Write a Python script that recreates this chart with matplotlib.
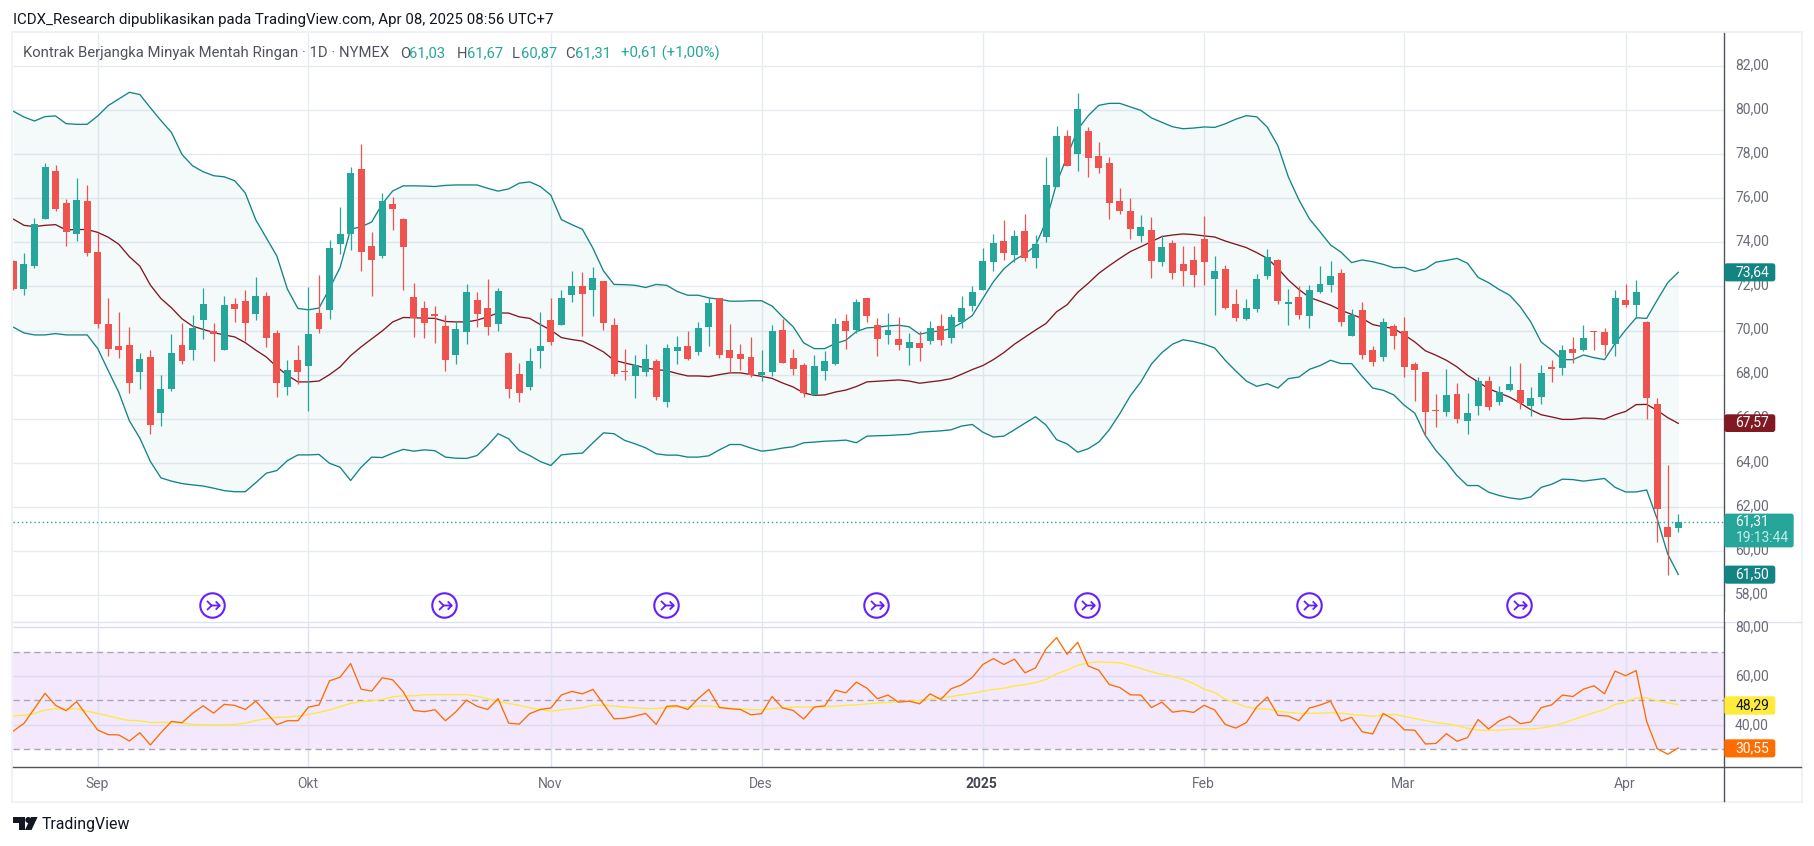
import numpy as np
import matplotlib
matplotlib.use('Agg')
import matplotlib.pyplot as plt
from matplotlib.patches import Rectangle, FancyBboxPatch, Circle, Polygon
from matplotlib.path import Path

plt.rcParams['font.family'] = ['Roboto', 'DejaVu Sans']

# daily candles
opens = [73.15,71.88,72.92,75.06,77.24,75.79,74.38,75.88,73.56,70.29,69.29,69.33,68.11,68.79,66.24,67.33,69.33,69.11,70.47,69.97,
         69.11,71.20,71.33,70.74,71.56,69.88,67.42,68.65,68.38,70.79,70.92,73.92,74.38,77.33,73.83,73.38,75.74,75.06,71.52,71.02,
         70.70,70.20,68.88,69.92,71.38,71.02,70.29,68.97,68.02,67.42,69.06,70.47,70.24,71.61,72.02,71.83,72.24,70.24,68.15,67.92,
         68.11,68.61,66.74,69.06,69.29,69.02,70.15,71.47,69.11,68.92,68.79,67.97,68.11,70.02,68.74,68.42,67.06,68.15,68.47,70.42,
         70.02,71.47,70.24,69.79,69.61,69.20,69.42,69.52,70.20,69.65,70.38,71.11,71.83,73.11,74.06,73.42,74.52,73.29,74.24,76.52,
         78.83,78.02,79.06,77.92,77.61,75.88,75.42,74.29,74.56,73.11,73.97,73.02,73.20,74.15,72.33,72.79,71.20,70.52,70.97,72.47,
         73.20,71.20,71.52,70.65,71.74,72.06,72.61,69.74,70.92,69.11,68.79,70.20,69.97,68.47,68.11,66.38,66.29,67.11,65.92,66.56,
         67.70,66.74,67.29,67.29,66.56,66.97,68.33,68.29,69.15,69.11,69.97,69.92,69.38,71.38,71.15,70.38,66.65,61.09,61.03]
highs = [73.20,73.52,75.11,77.61,77.52,75.97,76.92,76.61,74.42,71.47,70.83,70.15,68.97,69.11,67.97,69.83,70.33,70.70,71.92,70.33,
         71.56,71.47,71.83,72.42,71.74,70.02,68.65,69.33,71.97,72.52,74.11,75.61,77.42,78.47,74.47,76.24,76.06,75.11,72.15,71.33,
         71.11,70.70,70.38,72.11,71.74,72.33,71.92,69.02,68.52,69.20,70.83,71.47,71.83,72.70,72.65,72.88,72.24,70.56,69.15,68.88,
         69.38,68.70,69.38,69.74,69.97,70.38,71.47,71.47,70.29,69.38,69.70,69.11,70.24,70.52,69.15,68.52,68.88,69.06,70.56,70.74,
         71.42,71.47,70.56,70.79,70.61,69.88,69.97,70.42,70.74,70.74,71.56,72.02,73.74,74.38,75.02,74.56,75.29,74.33,77.88,79.29,
         79.11,80.79,79.24,78.56,77.88,76.47,76.02,75.24,75.15,74.33,74.11,73.83,73.83,75.20,73.38,72.97,71.88,71.42,72.56,73.70,
         73.24,71.88,72.02,72.06,72.92,73.15,72.79,70.97,71.29,69.29,70.56,70.29,70.61,68.56,68.11,67.11,68.24,67.61,67.15,67.88,
         67.92,67.47,68.38,68.52,67.42,68.42,68.65,69.33,69.70,70.24,69.97,70.11,71.83,72.11,72.29,70.42,66.92,63.88,61.67]
lows = [71.85,71.61,72.83,75.06,75.42,73.83,74.06,73.38,70.11,68.83,68.74,67.15,67.33,65.29,65.65,67.24,68.47,68.65,69.61,68.61,
        69.11,70.38,69.52,70.47,69.24,66.97,67.06,67.56,66.33,69.88,70.52,73.47,73.65,72.70,71.56,73.29,74.56,71.83,69.70,69.65,
        69.42,68.15,68.47,69.38,70.15,69.79,69.97,66.92,66.74,67.29,68.29,69.33,70.24,71.29,69.74,70.65,70.02,67.92,67.74,66.92,
        67.92,66.83,66.52,68.47,68.65,68.88,69.29,68.74,68.06,68.20,67.88,67.70,67.92,68.52,67.97,66.97,67.06,67.74,68.42,69.15,
        69.88,70.38,68.83,69.38,69.11,68.42,68.61,69.38,69.33,69.42,70.11,70.88,71.83,72.70,73.20,73.11,73.15,72.83,74.02,76.52,
        77.47,77.24,76.97,77.15,75.06,75.29,74.15,74.02,72.38,72.92,72.33,72.02,71.97,72.06,70.70,70.97,70.42,70.47,70.83,72.33,
        71.20,70.24,70.52,70.11,71.70,71.74,70.20,69.74,68.70,68.38,68.61,69.15,67.88,66.79,65.24,65.61,66.11,65.79,65.29,66.15,
        66.38,66.61,67.24,66.42,66.11,66.65,67.65,67.97,68.52,69.06,69.11,68.88,68.83,71.06,70.56,65.97,60.42,58.92,60.87]
closes = [71.88,73.02,74.83,77.42,75.52,74.47,75.92,73.52,70.29,69.15,69.11,67.61,68.70,65.70,67.33,68.97,68.61,70.11,71.20,69.83,
          71.15,70.97,70.33,71.56,69.65,67.61,68.20,68.11,69.83,70.06,73.74,74.38,77.15,73.56,73.20,75.88,75.52,73.79,70.56,70.33,
          70.67,68.65,70.06,71.74,70.74,70.15,71.79,67.33,67.15,68.61,69.29,69.47,71.47,72.02,71.65,72.38,70.33,68.02,68.11,68.42,
          68.70,66.97,69.20,69.24,68.70,70.11,71.24,68.88,68.74,68.70,67.97,68.11,69.97,68.52,68.24,67.15,68.38,68.61,70.29,69.97,
          71.29,70.65,69.61,70.02,69.33,69.47,69.20,70.11,69.56,70.61,71.02,71.74,73.15,73.97,73.52,74.29,73.29,73.92,76.61,78.83,
          77.47,80.06,77.83,77.38,75.79,75.42,74.61,74.70,73.15,73.79,72.61,72.70,72.52,73.11,72.70,71.02,70.56,71.02,72.33,73.33,
          71.33,71.29,70.70,71.83,72.11,72.47,70.38,70.70,68.88,68.56,70.38,69.74,68.33,68.20,66.29,66.33,67.06,65.97,66.24,67.70,
          66.52,67.20,67.56,66.70,66.92,68.06,68.24,69.11,68.97,69.65,69.92,69.33,71.47,71.15,71.74,66.92,61.92,60.65,61.31]

# bollinger bands
bb_upper = [79.94,79.68,79.50,79.70,79.73,79.38,79.35,79.35,79.73,80.20,80.50,80.80,80.70,80.10,79.52,78.98,77.98,77.47,77.20,77.02,
            76.97,76.79,76.24,75.02,74.20,73.38,71.88,71.00,70.94,71.02,71.90,72.86,74.60,74.70,74.92,75.74,76.33,76.56,76.56,76.55,
            76.53,76.58,76.60,76.60,76.60,76.45,76.32,76.42,76.68,76.74,76.53,76.14,75.03,74.80,74.59,73.73,72.70,72.09,72.08,72.05,
            71.95,72.09,72.05,71.77,71.60,71.60,71.48,71.42,71.33,71.33,71.35,71.35,71.11,70.62,70.17,69.44,69.18,69.18,69.41,69.56,
            69.95,70.12,70.15,70.21,70.24,70.17,69.83,69.94,69.98,70.09,70.35,70.68,71.45,72.21,72.80,73.20,73.47,73.85,74.94,76.68,
            77.89,79.11,79.74,80.21,80.30,80.30,80.14,79.98,79.64,79.44,79.24,79.15,79.18,79.23,79.21,79.37,79.58,79.74,79.69,79.22,
            78.38,76.96,75.92,75.06,74.48,73.88,73.55,73.08,73.20,73.12,73.00,72.85,72.86,72.68,72.79,73.10,73.18,73.27,73.05,72.41,
            72.17,71.86,71.60,71.08,70.39,69.47,69.11,68.68,68.68,68.89,68.77,68.68,69.41,70.02,70.58,70.55,71.38,72.17,72.64]
bb_lower = [70.15,69.89,69.80,69.80,69.86,69.80,69.80,69.80,69.18,68.18,67.20,65.91,65.12,64.06,63.32,63.17,63.06,63.00,62.95,62.85,
            62.74,62.69,62.69,63.10,63.53,63.65,64.10,64.36,64.36,64.38,63.98,63.80,63.20,63.80,64.26,64.24,64.44,64.61,64.53,64.59,
            64.55,64.26,64.21,64.20,64.33,64.79,65.32,65.09,64.56,64.33,64.06,63.88,64.36,64.41,64.44,64.91,65.36,65.32,65.02,64.86,
            64.68,64.41,64.35,64.35,64.26,64.26,64.32,64.59,64.83,64.83,64.67,64.53,64.58,64.67,64.73,64.91,64.94,64.98,65.00,65.03,
            64.91,65.21,65.23,65.24,65.27,65.29,65.39,65.42,65.45,65.50,65.67,65.74,65.39,65.17,65.21,65.50,65.80,66.09,65.71,65.05,
            64.86,64.48,64.64,64.94,65.50,66.23,67.04,67.67,68.48,69.00,69.38,69.58,69.50,69.38,69.21,68.65,68.17,67.71,67.47,67.59,
            67.39,67.82,67.89,68.24,68.41,68.65,68.50,68.50,67.92,67.39,67.29,67.08,66.61,66.25,65.24,64.56,64.03,63.42,62.97,62.97,
            62.67,62.52,62.41,62.35,62.45,62.89,63.03,63.26,63.24,63.17,63.23,63.29,62.89,62.68,62.68,62.77,61.45,59.86,58.94]
bb_basis = [75.05,74.77,74.71,74.77,74.80,74.56,74.58,74.58,74.45,74.23,73.91,73.35,72.92,72.06,71.45,71.03,70.53,70.20,70.05,69.91,
            69.80,69.71,69.45,69.11,68.80,68.35,67.97,67.67,67.67,67.71,68.00,68.35,68.86,69.26,69.62,69.98,70.39,70.59,70.58,70.56,
            70.55,70.41,70.39,70.39,70.47,70.62,70.80,70.79,70.62,70.55,70.27,70.02,69.68,69.59,69.52,69.29,69.03,68.65,68.53,68.42,
            68.30,68.23,68.18,68.05,67.94,67.94,67.91,68.00,68.08,68.08,68.00,67.92,67.83,67.62,67.44,67.17,67.06,67.08,67.21,67.30,
            67.46,67.67,67.70,67.73,67.76,67.71,67.61,67.67,67.73,67.82,68.02,68.23,68.41,68.68,69.00,69.38,69.70,70.02,70.32,70.85,
            71.17,71.73,72.14,72.59,72.94,73.27,73.58,73.80,74.03,74.26,74.33,74.38,74.35,74.29,74.24,74.06,73.91,73.76,73.53,73.27,
            72.82,72.29,71.86,71.50,71.33,71.15,70.92,70.73,70.55,70.27,70.17,70.09,69.80,69.48,69.08,68.88,68.65,68.35,67.97,67.67,
            67.36,67.17,66.98,66.71,66.41,66.18,66.08,65.97,65.97,66.03,66.02,65.98,66.18,66.33,66.64,66.65,66.38,66.05,65.79]

# rsi and its moving average
rsi = [37.5,40.6,46.7,52.9,48.0,45.8,49.5,43.6,37.9,36.0,35.9,33.4,36.8,31.8,36.8,41.4,40.9,44.7,47.8,44.8,
       48.4,48.0,46.3,49.7,45.0,40.1,41.7,41.7,47.3,48.1,58.0,59.5,65.1,54.6,53.8,59.3,58.4,53.5,45.9,45.4,
       46.2,41.7,45.4,50.1,47.6,46.3,50.7,40.7,40.3,44.6,46.3,46.9,52.2,53.7,52.7,54.5,48.5,42.5,42.7,43.6,
       44.7,40.2,47.6,47.8,46.3,50.8,54.5,47.1,46.6,46.3,44.1,44.6,51.6,46.9,45.9,42.4,47.3,47.8,54.2,53.1,
       57.5,55.0,50.7,52.2,49.3,49.7,48.6,52.7,50.4,54.8,56.4,59.4,64.7,67.1,64.7,66.9,61.3,63.3,71.1,75.7,
       68.9,73.8,64.1,62.4,56.5,55.3,52.3,52.2,47.1,49.3,45.2,45.8,45.1,48.0,46.1,40.2,38.7,40.9,47.4,51.4,
       43.9,43.6,41.7,46.9,48.1,49.7,41.6,43.1,37.2,36.3,44.7,42.2,38.0,37.8,32.2,32.4,36.4,33.3,34.8,42.2,
       38.3,41.6,43.5,40.5,41.2,47.1,48.2,52.2,51.6,54.6,56.0,52.7,62.0,60.1,62.2,41.4,30.3,28.0,30.55]
rsi_ma = [43.7,43.9,44.7,46.1,46.6,46.6,46.6,45.6,44.7,43.7,42.6,41.8,41.7,41.0,41.0,41.0,40.7,40.2,40.1,40.1,
          40.1,40.2,40.7,41.8,42.5,43.1,43.2,43.6,44.3,45.1,46.1,47.4,48.8,49.5,49.9,50.4,51.5,51.9,51.9,52.3,
          52.4,52.4,52.4,52.4,51.6,50.8,49.6,48.8,48.0,47.0,46.2,45.6,46.1,46.6,47.0,48.0,48.1,47.7,47.3,47.0,
          46.7,46.7,47.0,47.3,47.4,47.7,47.7,47.3,46.9,46.6,46.2,46.2,46.6,47.0,47.3,47.3,47.3,47.4,47.7,48.0,
          48.2,48.6,48.9,49.2,49.5,49.7,50.0,50.5,51.1,51.6,52.3,52.9,53.8,54.5,55.0,55.9,56.5,57.3,58.6,60.9,
          62.4,64.4,65.4,65.8,65.6,65.4,64.3,63.1,61.7,60.7,59.8,58.7,56.9,54.6,53.3,50.5,49.0,47.4,46.6,46.5,
          45.6,45.1,44.7,44.7,44.8,45.0,44.8,44.3,43.9,43.5,44.1,44.3,43.5,42.6,41.8,40.9,40.5,39.7,38.6,37.9,
          37.8,37.8,38.2,38.4,38.3,38.7,39.5,40.6,42.1,43.6,45.0,46.2,48.4,49.2,51.0,51.0,49.9,49.0,48.29]

price_ticks = [58, 60, 62, 64, 66, 68, 70, 72, 74, 76, 78, 80, 82]
rsi_ticks = [40, 60, 80]
rsi_bands = [30, 50, 70]
month_bars = [8, 28, 51, 71, 92, 113, 132, 153]
month_names = ['Sep', 'Okt', 'Nov', 'Des', '2025', 'Feb', 'Mar', 'Apr']
event_bars = [18.85, 40.9, 61.95, 81.9, 101.9, 123, 142.85]
last_price = 61.31

W, H = 1814, 846
GREEN, RED = '#26a69a', '#ef5350'
TEAL, MAROON = '#138484', '#801922'
GRID = '#e4ecf2'
TICK = '#6a6d78'
XLIM = (-0.04, 162.34)

fig = plt.figure(figsize=(W / 100, H / 100), dpi=100, facecolor='white')


def pane(left, top, right, bottom):
    a = fig.add_axes([left / W, 1 - bottom / H, (right - left) / W, (bottom - top) / H])
    a.set_xlim(*XLIM)
    a.axis('off')
    return a


ax = pane(13, 33, 1724, 622.3)
ax.set_ylim(56.77, 83.49)
ax_rsi = pane(13, 622.3, 1724, 767.3)
ax_rsi.set_ylim(22.65, 81.96)

x = np.arange(len(closes))

# ---------------------------------
# price pane
ax.hlines(price_ticks, *XLIM, color=GRID, lw=1, zorder=1)
ax.vlines(month_bars, 56.77, 83.49, color=GRID, lw=1, zorder=1)
ax.fill_between(x, bb_lower, bb_upper, color=TEAL, alpha=0.045, lw=0, zorder=2)
ax.plot(x, bb_upper, color=TEAL, lw=0.95, zorder=3)
ax.plot(x, bb_lower, color=TEAL, lw=0.95, zorder=3)
ax.plot(x, bb_basis, color=MAROON, lw=0.95, zorder=3)

colors = [GREEN if c >= o else RED for o, c in zip(opens, closes)]
ax.vlines(x, lows, highs, color=colors, lw=0.9, zorder=4)
tops = np.maximum(opens, closes)
bots = np.minimum(opens, closes)
ax.bar(x, np.maximum(tops - bots, 0.06), bottom=bots, width=0.66, color=colors, lw=0, zorder=5)

ax.axhline(last_price, color=GREEN, lw=1, ls=(0, (1, 2)), zorder=6)

# event markers
event_glyph = Path([(-6, 5), (-1, 0), (-6, -5), (-1, 0), (8, 0), (3.5, 4.5), (8, 0), (3.5, -4.5)],
                   [Path.MOVETO, Path.LINETO, Path.LINETO, Path.MOVETO, Path.LINETO, Path.LINETO, Path.MOVETO, Path.LINETO])
ax.plot(event_bars, [57.54] * len(event_bars), ls='', marker='o', ms=17.6, mfc='white', mec='#651fff', mew=1.5, zorder=7)
ax.plot(event_bars, [57.54] * len(event_bars), ls='', marker=event_glyph, ms=10.5, mfc='none', mec='#651fff', mew=1.3, zorder=8)

# ---------------------------------
# rsi pane
ax_rsi.axhspan(rsi_bands[0], rsi_bands[2], color='#f4e8fd', lw=0, zorder=1)
ax_rsi.hlines(rsi_ticks, *XLIM, color='#dcd9f0', lw=1, zorder=2)
ax_rsi.vlines(month_bars, 22.65, 81.96, color='#dfe2f0', lw=1, zorder=2)
ax_rsi.hlines(rsi_bands, *XLIM, color='#a9a6b2', lw=1, linestyles=[(0, (4.5, 3))], zorder=3)
ax_rsi.plot(x, rsi_ma, color='#ffe93b', lw=0.95, zorder=4)
ax_rsi.plot(x, rsi, color='#ff6d00', lw=0.95, zorder=5)

# ---------------------------------
# frame, scales and texts in pixel space
ov = fig.add_axes([0, 0, 1, 1])
ov.set_xlim(0, W)
ov.set_ylim(H, 0)
ov.axis('off')
ov.patch.set_alpha(0)

ov.add_patch(Rectangle((12, 32), 1790, 770, fill=False, ec='#f0f3f6', lw=1.5))
ov.plot([13, 1801], [622.3, 622.3], color='#e0e3eb', lw=1)
ov.plot([13, 1801], [767.3, 767.3], color='#50535e', lw=1)
ov.plot([1724, 1724], [33, 801], color='#50535e', lw=1)


def tick_label(y, s):
    ov.text(1735, y, s, color=TICK, fontsize=10, va='center', ha='left')


for p in price_ticks:
    tick_label(242.3 + (74 - p) * 22.05 - 1, '%d,00' % p)
tick_label(627, '80,00')
tick_label(676, '60,00')
tick_label(725, '40,00')
ov.add_patch(Rectangle((1725, 612), 70, 9.8, fc='white', ec='none', zorder=2.5))


def value_box(y0, y1, color, s, tcolor='white', x1=1775.6):
    ov.add_patch(FancyBboxPatch((1725, y0 + 1), x1 - 1726, y1 - y0 - 2, boxstyle='round,pad=0,rounding_size=2',
                                fc=color, ec=color, lw=1, zorder=3))
    ov.text(1735.5, (y0 + y1) / 2 - 0.5, s, color=tcolor, fontsize=10, va='center', ha='left', zorder=4)


value_box(263, 281.7, '#138484', '73,64')
value_box(414, 432.3, MAROON, '67,57')
value_box(565.3, 584, '#138484', '61,50')
value_box(696, 715, '#ffeb3b', '48,29', tcolor='#131722')
value_box(739, 757.7, '#ff6d00', '30,55')
value_box(513.3, 547.7, GREEN, '', x1=1794)
ov.text(1735.5, 521.5, '61,31', color='white', fontsize=10, va='center', ha='left', zorder=4)
ov.text(1735.5, 538, '19:13:44', color='#c6ebe7', fontsize=10, va='center', ha='left', zorder=4)

for b, name in zip(month_bars, month_names):
    px = 97.7 + (b - 8) * 10.537
    bold = name == '2025'
    ov.text(px - 1, 784, name, color='#131722' if bold else TICK, fontsize=10,
            fontweight='bold' if bold else 'normal', alpha=0.8 if bold else 1, va='center', ha='center')

# header and legend line
ov.text(13, 20, 'ICDX_Research dipublikasikan pada TradingView.com, Apr 08, 2025 08:56 UTC+7',
        color='#131722', fontsize=10.8, va='center', ha='left')
ov.text(23, 53.5, 'Kontrak Berjangka Minyak Mentah Ringan · 1D · NYMEX', color='#50535e', fontsize=10.68, va='center')
ohlc_x = [(400, 'O', '61,03'), (457, 'H', '61,67'), (512, 'L', '60,87'), (565, 'C', '61,31')]
for px, letter, val in ohlc_x:
    ov.text(px, 53.5, letter, color='#50535e', fontsize=10.6, va='center')
    ov.text(px + 9.5, 53.5, val, color=GREEN, fontsize=10.6, va='center')
ov.text(621, 53.5, '+0,61 (+1,00%)', color=GREEN, fontsize=10.8, va='center')

# logo
ov.add_patch(Polygon([(13, 817), (25, 817), (25, 830), (18.5, 830), (18.5, 823), (13, 823)], fc='#131722', ec='none'))
ov.add_patch(Circle((28.3, 820), 3, fc='#131722', ec='none'))
ov.add_patch(Polygon([(31, 817), (37.6, 817), (31.5, 830), (25, 830)], fc='#131722', ec='none'))
ov.text(42, 824.5, 'TradingView', color='#131722', fontsize=11.4, va='center', ha='left')

fig.savefig('out.png', dpi=100, facecolor='white')
